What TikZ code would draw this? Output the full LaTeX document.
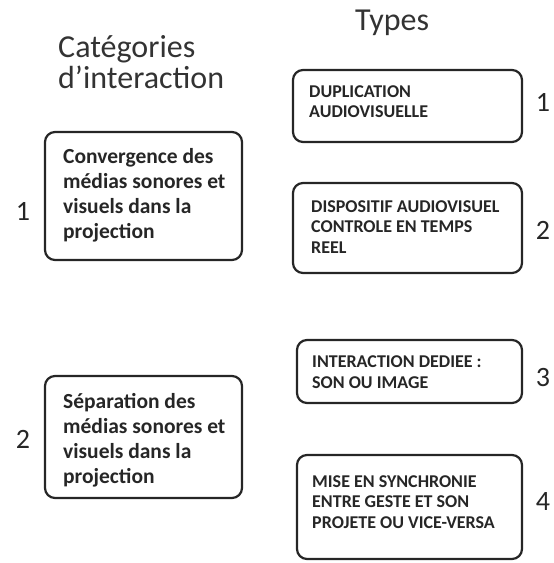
\documentclass[tikz,border=0pt]{standalone}
\usepackage{fontspec}
\setmainfont{Carlito}
\begin{document}
\begin{tikzpicture}[x=1pt,y=-1pt,
  box/.style={draw=black!85, line width=2.2pt, rounded corners=10pt, inner sep=0pt},
  head/.style={anchor=base west, inner sep=0pt, font=\fontsize{32}{31}\selectfont, text=black!80},
  bigtxt/.style={anchor=base west, inner sep=0pt, align=left, font=\fontsize{21.5}{25}\selectfont\bfseries, text=black!85},
  smalltxt/.style={anchor=base west, inner sep=0pt, align=left, font=\fontsize{18}{20.5}\selectfont\bfseries, text=black!85},
  num/.style={anchor=base, inner sep=0pt, font=\fontsize{28}{28}\selectfont, text=black!85}]
\useasboundingbox (0,0) rectangle (554,563);
% headings
\node[head] (h1) at (58,57) {Catégories};
\node[head] (h2) at (58,88) {d’interaction};
\node[head] (h3) at (355,30) {Types};
% left boxes (text nodes anchored at the baseline of their last line)
\node[box, minimum width=197pt, minimum height=128pt] (L1) at (143.5,196) {};
\node[bigtxt] (L1t) at (63,238) {Convergence des\\médias sonores et\\visuels dans la\\projection};
\node[num] (L1n) at (23,220) {1};
\node[box, minimum width=197pt, minimum height=122pt] (L2) at (143.5,437) {};
\node[bigtxt] (L2t) at (63,483) {Séparation des\\médias sonores et\\visuels dans la\\projection};
\node[num] (L2n) at (23,448) {2};
% right boxes
\node[box, minimum width=229pt, minimum height=72pt] (R1) at (407.5,106) {};
\node[smalltxt] (R1t) at (309,117.5) {DUPLICATION\\AUDIOVISUELLE};
\node[num] (R1n) at (543,111) {1};
\node[box, minimum width=229pt, minimum height=90pt] (R2) at (407.5,228) {};
\node[smalltxt] (R2t) at (311,253) {DISPOSITIF AUDIOVISUEL\\CONTROLE EN TEMPS\\REEL};
\node[num] (R2n) at (543,239) {2};
\node[box, minimum width=225pt, minimum height=63pt] (R3) at (409.5,371.5) {};
\node[smalltxt] (R3t) at (312,388) {INTERACTION DEDIEE :\\SON OU IMAGE};
\node[num] (R3n) at (543,386) {3};
\node[box, minimum width=225pt, minimum height=104pt] (R4) at (409.5,507) {};
\node[smalltxt] (R4t) at (312,528) {MISE EN SYNCHRONIE\\ENTRE GESTE ET SON\\PROJETE OU VICE-VERSA};
\node[num] (R4n) at (543,510) {4};
\end{tikzpicture}
\end{document}
